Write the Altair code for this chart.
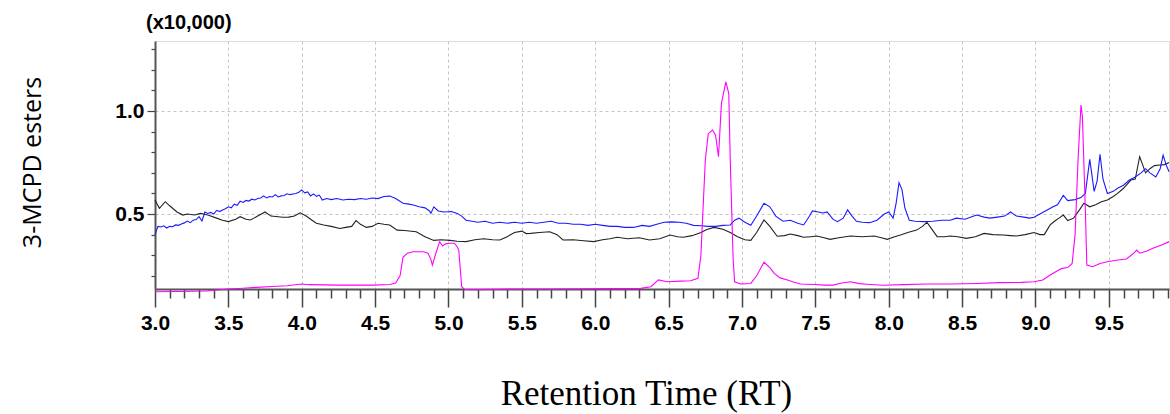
import altair as alt
import pandas as pd

# ---- data (RT in min, intensity x10,000) ----
blue_rt = [3.00, 3.02, 3.04, 3.06, 3.08, 3.10, 3.12, 3.14, 3.16, 3.18, 3.20, 3.22, 3.24, 3.26, 3.28,
           3.30, 3.32, 3.34, 3.36, 3.38, 3.40, 3.42, 3.44, 3.46, 3.48, 3.50, 3.52, 3.54, 3.56, 3.58,
           3.60, 3.62, 3.64, 3.66, 3.68, 3.70, 3.72, 3.74, 3.76, 3.78, 3.80, 3.82, 3.84, 3.86, 3.88,
           3.90, 3.92, 3.94, 3.96, 3.98, 4.00, 4.02, 4.04, 4.06, 4.08, 4.10, 4.12, 4.14, 4.17, 4.20,
           4.24, 4.28, 4.32, 4.36, 4.40, 4.44, 4.48, 4.52, 4.56, 4.60, 4.64, 4.69, 4.73, 4.76, 4.80,
           4.84, 4.87, 4.88, 4.90, 4.93, 4.97, 5.02, 5.06, 5.09, 5.12, 5.16, 5.20, 5.25, 5.30, 5.35,
           5.40, 5.45, 5.50, 5.55, 5.60, 5.65, 5.70, 5.75, 5.80, 5.85, 5.90, 5.95, 6.00, 6.05, 6.10,
           6.15, 6.20, 6.26, 6.32, 6.37, 6.42, 6.47, 6.52, 6.57, 6.62, 6.67, 6.72, 6.77, 6.82, 6.87,
           6.92, 6.95, 6.98, 7.02, 7.06, 7.10, 7.15, 7.19, 7.23, 7.28, 7.33, 7.38, 7.42, 7.46, 7.48,
           7.52, 7.55, 7.58, 7.62, 7.65, 7.69, 7.72, 7.75, 7.78, 7.82, 7.87, 7.92, 7.97, 8.00, 8.03,
           8.05, 8.07, 8.09, 8.11, 8.14, 8.18, 8.24, 8.30, 8.36, 8.42, 8.46, 8.52, 8.58, 8.60, 8.65,
           8.69, 8.74, 8.79, 8.83, 8.87, 8.92, 8.96, 8.99, 9.03, 9.08, 9.12, 9.15, 9.19, 9.22, 9.27,
           9.31, 9.34, 9.37, 9.40, 9.42, 9.44, 9.46, 9.49, 9.53, 9.56, 9.60, 9.64, 9.68, 9.72, 9.75,
           9.78, 9.82, 9.85, 9.87, 9.89, 9.91]
blue_val = [0.40, 0.44, 0.437, 0.443, 0.432, 0.44, 0.438, 0.447, 0.445, 0.452, 0.457, 0.466, 0.458, 0.47, 0.473,
            0.487, 0.466, 0.51, 0.503, 0.508, 0.50, 0.518, 0.512, 0.52, 0.526, 0.535, 0.53, 0.548, 0.542, 0.562,
            0.556, 0.566, 0.563, 0.572, 0.568, 0.575, 0.578, 0.588, 0.578, 0.585, 0.583, 0.594, 0.583, 0.588, 0.59,
            0.598, 0.594, 0.597, 0.60, 0.606, 0.617, 0.603, 0.607, 0.588, 0.598, 0.586, 0.592, 0.568, 0.575, 0.57,
            0.575, 0.568, 0.572, 0.57, 0.575, 0.572, 0.578, 0.575, 0.585, 0.587, 0.575, 0.552, 0.548, 0.544, 0.535,
            0.53, 0.515, 0.503, 0.535, 0.515, 0.51, 0.512, 0.503, 0.49, 0.47, 0.465, 0.46, 0.465, 0.455, 0.46,
            0.455, 0.46, 0.455, 0.46, 0.455, 0.46, 0.465, 0.455, 0.455, 0.45, 0.45, 0.445, 0.45, 0.445, 0.44,
            0.44, 0.435, 0.435, 0.445, 0.44, 0.45, 0.46, 0.462, 0.46, 0.455, 0.445, 0.443, 0.44, 0.44, 0.445,
            0.447, 0.47, 0.48, 0.46, 0.445, 0.49, 0.552, 0.535, 0.49, 0.465, 0.47, 0.455, 0.447, 0.49, 0.515,
            0.51, 0.505, 0.51, 0.475, 0.463, 0.48, 0.52, 0.49, 0.465, 0.46, 0.458, 0.47, 0.50, 0.51, 0.48,
            0.55, 0.652, 0.62, 0.53, 0.47, 0.465, 0.463, 0.465, 0.47, 0.47, 0.48, 0.475, 0.49, 0.495, 0.485,
            0.48, 0.485, 0.49, 0.51, 0.49, 0.485, 0.48, 0.484, 0.50, 0.52, 0.535, 0.545, 0.59, 0.565, 0.57,
            0.58, 0.60, 0.765, 0.61, 0.66, 0.79, 0.67, 0.60, 0.61, 0.625, 0.64, 0.665, 0.68, 0.70, 0.72,
            0.70, 0.68, 0.72, 0.786, 0.74, 0.705]

black_rt = [3.00, 3.03, 3.07, 3.10, 3.15, 3.19, 3.22, 3.27, 3.31, 3.36, 3.42, 3.46, 3.50, 3.55, 3.58,
            3.62, 3.65, 3.70, 3.75, 3.79, 3.84, 3.87, 3.91, 3.95, 3.99, 4.03, 4.07, 4.10, 4.15, 4.20,
            4.26, 4.30, 4.34, 4.37, 4.40, 4.44, 4.48, 4.52, 4.56, 4.60, 4.65, 4.70, 4.78, 4.84, 4.90,
            4.95, 5.01, 5.06, 5.12, 5.18, 5.24, 5.30, 5.35, 5.40, 5.45, 5.50, 5.53, 5.56, 5.62, 5.69,
            5.74, 5.78, 5.85, 5.92, 5.99, 6.05, 6.10, 6.15, 6.22, 6.30, 6.37, 6.44, 6.51, 6.56, 6.60,
            6.66, 6.72, 6.76, 6.81, 6.87, 6.92, 6.97, 7.02, 7.06, 7.10, 7.15, 7.19, 7.24, 7.29, 7.33,
            7.38, 7.42, 7.47, 7.51, 7.56, 7.60, 7.66, 7.74, 7.82, 7.90, 7.95, 7.99, 8.04, 8.08, 8.13,
            8.19, 8.23, 8.26, 8.29, 8.33, 8.38, 8.42, 8.47, 8.53, 8.59, 8.65, 8.71, 8.78, 8.83, 8.87,
            8.93, 8.99, 9.03, 9.06, 9.10, 9.13, 9.16, 9.19, 9.22, 9.26, 9.30, 9.33, 9.37, 9.41, 9.45,
            9.49, 9.53, 9.56, 9.60, 9.65, 9.68, 9.71, 9.73, 9.75, 9.78, 9.81, 9.85, 9.88, 9.91]
black_val = [0.568, 0.528, 0.56, 0.54, 0.51, 0.495, 0.50, 0.495, 0.503, 0.495, 0.48, 0.47, 0.463, 0.475, 0.487,
             0.475, 0.471, 0.49, 0.51, 0.49, 0.487, 0.484, 0.485, 0.49, 0.506, 0.49, 0.47, 0.455, 0.447, 0.44,
             0.43, 0.435, 0.44, 0.468, 0.45, 0.435, 0.44, 0.455, 0.45, 0.447, 0.422, 0.42, 0.414, 0.39, 0.372,
             0.375, 0.372, 0.368, 0.366, 0.375, 0.38, 0.375, 0.374, 0.39, 0.41, 0.417, 0.405, 0.406, 0.41, 0.414,
             0.40, 0.374, 0.375, 0.37, 0.366, 0.375, 0.38, 0.387, 0.38, 0.385, 0.374, 0.38, 0.398, 0.39, 0.387,
             0.395, 0.41, 0.425, 0.435, 0.426, 0.41, 0.39, 0.375, 0.372, 0.41, 0.471, 0.44, 0.392, 0.395, 0.403,
             0.395, 0.387, 0.39, 0.393, 0.385, 0.377, 0.385, 0.393, 0.39, 0.393, 0.385, 0.377, 0.39, 0.398, 0.41,
             0.422, 0.44, 0.46, 0.43, 0.39, 0.39, 0.393, 0.39, 0.382, 0.39, 0.406, 0.40, 0.398, 0.395, 0.393,
             0.40, 0.41, 0.40, 0.40, 0.447, 0.465, 0.48, 0.495, 0.468, 0.48, 0.52, 0.552, 0.535, 0.545, 0.56,
             0.568, 0.585, 0.60, 0.625, 0.665, 0.67, 0.778, 0.74, 0.70, 0.72, 0.735, 0.738, 0.74, 0.75]

magenta_rt = [3.00, 3.15, 3.35, 3.50, 3.60, 3.69, 3.80, 3.90, 4.00, 4.05, 4.15, 4.26, 4.40, 4.49, 4.60,
              4.64, 4.67, 4.69, 4.72, 4.76, 4.83, 4.86, 4.88, 4.89, 4.91, 4.93, 4.94, 4.96, 4.98, 5.01,
              5.04, 5.06, 5.07, 5.09, 5.11, 5.20, 5.35, 5.50, 5.70, 5.90, 6.10, 6.25, 6.31, 6.38, 6.43,
              6.49, 6.58, 6.65, 6.70, 6.72, 6.75, 6.77, 6.80, 6.82, 6.84, 6.86, 6.89, 6.91, 6.92, 6.94,
              6.95, 6.99, 7.06, 7.10, 7.15, 7.19, 7.22, 7.26, 7.31, 7.35, 7.40, 7.50, 7.56, 7.62, 7.68,
              7.74, 7.80, 7.85, 7.96, 8.10, 8.26, 8.42, 8.60, 8.76, 8.90, 8.99, 9.05, 9.10, 9.15, 9.18,
              9.22, 9.25, 9.27, 9.29, 9.31, 9.32, 9.34, 9.35, 9.39, 9.44, 9.49, 9.56, 9.62, 9.67, 9.69,
              9.71, 9.76, 9.80, 9.86, 9.91]
magenta_val = [0.123, 0.124, 0.126, 0.136, 0.14, 0.144, 0.148, 0.152, 0.16, 0.157, 0.156, 0.155, 0.155, 0.155, 0.158,
               0.165, 0.20, 0.29, 0.31, 0.317, 0.317, 0.31, 0.28, 0.252, 0.30, 0.345, 0.366, 0.345, 0.355, 0.358,
               0.358, 0.34, 0.325, 0.147, 0.134, 0.133, 0.135, 0.136, 0.136, 0.137, 0.138, 0.138, 0.139, 0.147, 0.18,
               0.171, 0.174, 0.176, 0.188, 0.30, 0.76, 0.89, 0.908, 0.883, 0.778, 1.037, 1.142, 1.086, 0.762, 0.277,
               0.171, 0.16, 0.163, 0.20, 0.266, 0.24, 0.212, 0.19, 0.18, 0.17, 0.16, 0.158, 0.155, 0.155, 0.165,
               0.171, 0.162, 0.159, 0.154, 0.157, 0.16, 0.16, 0.163, 0.167, 0.168, 0.171, 0.18, 0.204, 0.225, 0.236,
               0.24, 0.26, 0.40, 0.76, 1.029, 0.972, 0.52, 0.252, 0.244, 0.26, 0.268, 0.277, 0.282, 0.31, 0.325,
               0.31, 0.32, 0.334, 0.35, 0.366]

series_names = ["black", "blue", "magenta"]
series_colors = ["#222222", "#1a1aff", "#ff00ff"]

x_ticks = [round(3.0 + 0.1 * i, 1) for i in range(70)]
y_ticks = [round(0.2 + 0.1 * i, 1) for i in range(12)]

rows = []
for name, xs, ys in [("black", black_rt, black_val), ("blue", blue_rt, blue_val),
                     ("magenta", magenta_rt, magenta_val)]:
    for i, (x, y) in enumerate(zip(xs, ys)):
        rows.append({"rt": x, "v": y, "series": name, "i": i})
df = pd.DataFrame(rows)

major = "abs(datum.value*2 - round(datum.value*2)) < 0.01"
LBL = "Liberation Sans, Arial, sans-serif"

x_axis = alt.Axis(
    values=x_ticks,
    labelExpr=f"{major} ? format(datum.value, '.1f') : ''",
    labelFlush=False, labelOverlap=False,
    tickSize={"condition": {"test": major, "value": 18}, "value": 9},
    tickColor="#444", tickWidth=1.5,
    grid=True, gridColor="#c4c4c4", gridDash=[3, 3], gridWidth=1,
    gridOpacity={"condition": {"test": major, "value": 1}, "value": 0},
    domainColor="#555", domainWidth=2,
    labelFont=LBL, labelFontSize=21, labelFontWeight="bold", labelColor="black",
    labelPadding=5,
    title="Retention Time (RT)", titleFont="Liberation Serif", titleFontSize=35,
    titleFontWeight="normal", titleColor="black",
    titleX=491, titleY=115, titleAlign="center", titleBaseline="alphabetic",
)
y_axis = alt.Axis(
    values=y_ticks,
    labelExpr=f"{major} ? format(datum.value, '.1f') : ''",
    labelFlush=False, labelOverlap=False,
    tickSize={"condition": {"test": major, "value": 8}, "value": 4},
    tickColor="#444", tickWidth=1.2,
    grid=True, gridColor="#c4c4c4", gridDash=[3, 3], gridWidth=1,
    gridOpacity={"condition": {"test": major, "value": 1}, "value": 0},
    domainColor="#555", domainWidth=2,
    labelFont=LBL, labelFontSize=21, labelFontWeight="bold", labelColor="black",
    labelPadding=3,
    title="3-MCPD esters", titleFont="Open Sans", titleFontSize=25,
    titleFontWeight="normal", titleColor="black",
    titleAngle=270, titleX=-123, titleY=121, titleAlign="center", titleBaseline="middle",
)

base = alt.Chart(df).encode(
    x=alt.X("rt:Q", scale=alt.Scale(domain=[3.0, 9.91], nice=False, zero=False), axis=x_axis),
    y=alt.Y("v:Q", scale=alt.Scale(domain=[0.136, 1.34], nice=False, zero=False), axis=y_axis),
    order="i:Q",
)

layers = [
    base.transform_filter(alt.datum.series == name).mark_line(color=col, strokeWidth=1.1)
    for name, col in zip(series_names, series_colors)
]

chart = alt.layer(*layers).properties(
    width=1014, height=248,
    autosize=alt.AutoSizeParams(type="none"),
    padding={"left": 155, "top": 41, "right": 1, "bottom": 125},
    title=alt.TitleParams(text="(x10,000)", anchor="start", frame="group", font=LBL,
                          fontSize=20, fontWeight="bold", color="black", dx=-9, offset=5),
).configure_view(stroke="black", strokeWidth=1.5).configure(background="white")

chart.save("out.html", embed_options={"renderer": "svg", "actions": False})
